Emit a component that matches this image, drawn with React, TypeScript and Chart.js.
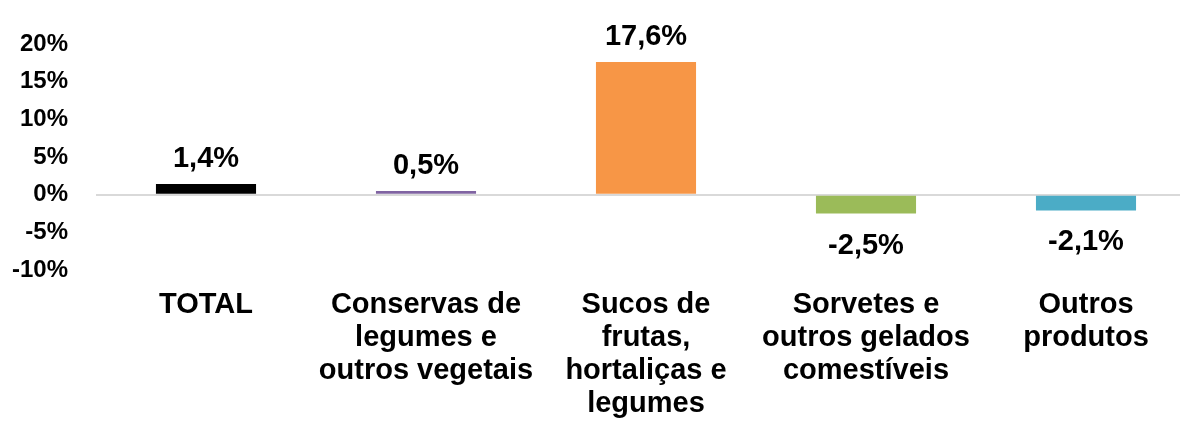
import React, { useEffect, useRef } from "react";
import { Chart, registerables } from "chart.js";

Chart.register(...registerables);

const categories: (string | string[])[] = [
  "TOTAL",
  ["Conservas de", "legumes e", "outros vegetais"],
  ["Sucos de", "frutas,", "hortaliças e", "legumes"],
  ["Sorvetes e", "outros gelados", "comestíveis"],
  ["Outros", "produtos"],
];
const values = [1.4, 0.5, 17.6, -2.5, -2.1];
const valueLabels = ["1,4%", "0,5%", "17,6%", "-2,5%", "-2,1%"];
const barColors = ["#000000", "#8064A2", "#F79646", "#9BBB59", "#4BACC6"];
const yMin = -10;
const yMax = 20;
const yStep = 5;

const FONT = "'Liberation Sans', Arial, sans-serif";

const valueLabelPlugin = {
  id: "valueLabels",
  afterDatasetsDraw(chart: any) {
    const ctx = chart.ctx;
    const meta = chart.getDatasetMeta(0);
    ctx.save();
    ctx.font = `bold 29px ${FONT}`;
    ctx.fillStyle = "#000000";
    ctx.textAlign = "center";
    ctx.textBaseline = "alphabetic";
    meta.data.forEach((bar: any, i: number) => {
      const v = values[i];
      if (v >= 0) {
        ctx.fillText(valueLabels[i], bar.x, bar.y - 17);
      } else {
        ctx.fillText(valueLabels[i], bar.x, bar.y + 40);
      }
    });
    ctx.restore();
  },
};

export default function App() {
  const ref = useRef<HTMLCanvasElement | null>(null);

  useEffect(() => {
    if (!ref.current) return;
    const chart = new Chart(ref.current, {
      type: "bar",
      data: {
        labels: categories,
        datasets: [
          {
            data: values,
            backgroundColor: barColors,
            borderWidth: 0,
            barPercentage: 0.455,
            categoryPercentage: 1,
          },
        ],
      },
      options: {
        animation: false,
        responsive: true,
        maintainAspectRatio: false,
        layout: { padding: { top: 36, right: 0, bottom: 0, left: 0 } },
        plugins: {
          legend: { display: false },
          tooltip: { enabled: false },
        },
        scales: {
          x: {
            offset: true,
            grid: { display: false, drawTicks: false },
            border: { display: false },
            ticks: {
              color: "#000000",
              font: { family: FONT, size: 29, weight: "bold", lineHeight: 1.14 },
              maxRotation: 0,
              minRotation: 0,
              autoSkip: false,
              padding: 18,
            },
            afterFit(scale: any) {
              scale.height = 151;
            },
          },
          y: {
            min: yMin,
            max: yMax,
            grid: {
              drawTicks: false,
              color: (c: any) => (c.tick && c.tick.value === 0 ? "#D9D9D9" : "rgba(0,0,0,0)"),
              lineWidth: 2,
            },
            border: { display: false },
            ticks: {
              stepSize: yStep,
              color: "#000000",
              font: { family: FONT, size: 24, weight: "bold" },
              padding: 28,
              callback: (v: any) => `${v}%`,
            },
            afterFit(scale: any) {
              scale.width = 88;
              scale.paddingTop = 0;
              scale.paddingBottom = 0;
            },
          },
        },
      },
      plugins: [valueLabelPlugin],
    });
    return () => chart.destroy();
  }, []);

  return (
    <div style={{ width: 1180, height: 413, overflow: "hidden" }}>
      <div style={{ width: 1188, height: 413, position: "relative" }}>
        <canvas ref={ref} />
      </div>
    </div>
  );
}
